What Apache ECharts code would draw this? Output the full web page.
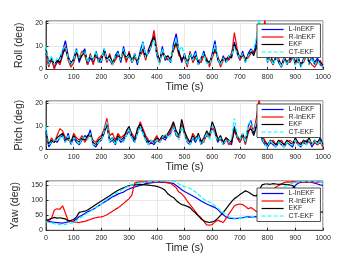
<!DOCTYPE html>
<html><head><meta charset="utf-8">
<script src="https://cdn.jsdelivr.net/npm/echarts@6/dist/echarts.min.js"></script>
<style>html,body{margin:0;padding:0;background:#fff}#c{width:357px;height:268px}</style>
</head><body><div id="c"></div>
<script>
const seriesNames = ['L-InEKF', 'R-InEKF', 'EKF', 'CT-EKF'];
const times = [0,10,20,30,40,50,60,70,80,90,100,110,120,130,140,150,160,170,180,190,200,210,220,230,240,250,260,270,280,290,300,310,320,330,340,350,360,370,380,390,400,410,420,430,440,450,460,470,480,490,500,510,520,530,540,550,560,570,580,590,600,610,620,630,640,650,660,670,680,690,700,710,720,730,740,750,760,770,780,790,800,810,820,830,840,850,860,870,880,890,900,910,920,930,940,950,960,970,980,990,1000];
const xTicks = [0,100,200,300,400,500,600,700,800,900,1000];

const rollL = [7,2,4,1,3,5,8,12.5,6,2, 5,9,3,7,9,2,5,3,8,4, 3,9,5,4,2,6,8,3,10,4, 6,3,7,2,8,12,6,7,10,15, 6,3,10,4,5,3,11,15.5,8,3, 7,2,6,5,8,2,4,8,3,2, 7,12.5,4,2,6,3,5,7,12,7, 4,8,3,7,9,7,12,19,8,10, 3,7,2,6,3,1,6,2,5,7, 2,6,1,5,8,2,6,3,5,2,1];
const rollR = [6,1,5,0,4,2,6,10,4,1, 3,7,5,8,6,2,7,2,6,4, 6,7,3,7,2,4,6,5,7,3, 8,3,5,4,6,8,4,9,11,17, 9,3,7,6,4,5,8,11,6,5, 5,1,8,3,5,4,3,6,5,1, 5,8,6,1,4,5,4,6,16,9, 4,6,5,5,7,8,9,12,8,22, 5,4,2,6,5,1,4,4,3,5, 4,3,3,3,6,4,2,1,3,4,1];
const rollE = [9,3,5,2,4,3,7,9,5,3, 4,8,4,6,8,3,6,4,7,3, 5,8,4,6,3,5,7,4,8,5, 7,4,6,3,7,9,5,8,12,14, 7,4,8,5,6,4,9,12,7,4, 6,3,7,4,6,3,5,7,4,3, 6,9,5,3,5,4,6,5,11,8, 5,7,4,6,8,6,10,13,7,9, 4,6,3,5,4,2,5,3,4,6, 3,5,2,4,7,3,5,2,4,3,2];
const rollC = [10,2,6,2,5,4,9,10,5,2, 4,9,5,7,8,3,6,4,8,3, 4,9,4,5,2,6,7,4,9,5, 6,3,7,3,6,12,5,8,10,13, 7,2,9,5,5,3,10,13,8,10, 6,2,7,4,7,2,5,7,3,2, 6,11,5,2,5,3,6,6,10,7, 5,7,3,6,8,9,14,22,7,9, 3,6,2,5,4,1,5,2,5,6, 2,5,1,4,7,2,5,2,4,2,1];

const pitchL = [8,1,3,4,3,5,6,3,7,2, 5,3,2,4,6,5,8.5,2,1,3, 4,7,11,3,4,2,5,3,4,6, 8,5,3,7,10,7,4,2,3,2, 4,3,5,4,6,7,10,6,5,10, 7,3,2,5,3,6,2,4,6,5, 10,7,3,5,2,4,3,2,10,5, 3,6,4,10,12.5,7,11,13,4,2, 1,3,2,1,3,2,1,3,2,1, 4,2,1,3,2,4,1,3,2,4,1];
const pitchR = [6,2,5,3,6,9,8,5,4,3, 7,5,4,6,3,5,6,4,3,5, 6,9,13.5,6,7,4,7,5,6,7, 9,7,5,8,12,9,6,4,3,4, 6,3,5,6,6,8,11,7,5,11, 7,4,3,7,5,6,4,3,7,5, 9,8,5,4,3,5,2,3,8,5, 3,6,2,7,10.5,8,14,22,6,4, 2,3,4,2,3,4,2,3,4,3, 4,2,3,3,4,3,2,3,2,3,1];
const pitchE = [7,2,4,3,5,6,7,4,5,3, 6,4,3,5,4,6,7,3,2,4, 5,8,10,4,5,3,6,4,5,8, 10,6,4,9,11,8,5,3,4,3, 5,4,6,5,7,9,12,8,6,13, 8,5,3,6,4,7,3,5,8,6, 12,9,4,6,3,5,4,3,9,6, 4,7,3,8,9,6,10,12,5,3, 2,4,3,2,4,3,2,4,3,2, 5,3,2,4,3,5,2,4,3,5,2];
const pitchC = [10,2,3,4,4,5,6,3,6,2, 5,4,2,5,5,4,7,2,2,3, 4,8,12,3,5,2,5,4,3,6, 9,5,3,7,10,7,4,2,4,3, 4,3,5,7,5,6,10,7,4,10, 6,3,2,5,4,6,2,4,7,4, 10,6,4,5,2,4,3,5,13.5,6, 4,7,3,11,12,8,12,11,5,2, 1,4,2,1,3,2,1,3,2,2, 4,2,1,3,2,4,2,4,2,4,1];

const yawL = [32,30,28,27,26,25,24,26,28,30, 31,38,46,50,56,62,66,70,76,82, 88,94,100,106,112,116,121,125,128,134, 138,142,145,148,150,153,156,158,159,160, 161,161,160,160,159,158,157,150,143,136, 130,125,120,115,110,104,98,93,88,84, 80,76,70,60,52,44,41,40,39,40, 41,42,44,45,44,45,46,46,47,48, 50,55,65,80,95,110,122,132,138,140, 150,158,160,161,162,161,160,158,155,152,150];
const yawR = [30,32,40,68,72,70,82,58,32,30, 28,27,26,28,30,33,36,40,42,44, 45,48,52,58,64,70,75,82,90,98, 106,118,158,161,162,162,163,162,162,163, 162,162,162,161,160,158,150,142,128,122, 112,98,86,74,62,50,42,30,18,17, 19,28,34,30,26,40,54,68,82,86, 88,86,80,72,76,70,62,70,85,100, 115,125,135,145,150,155,160,162,161,163, 162,161,162,163,162,161,163,162,161,163,162];
const yawE = [34,36,40,43,41,42,40,38,32,33, 36,45,60,62,64,68,74,80,86,92, 98,104,110,116,122,128,134,138,142,146, 149,151,152,153,154,153,152,151,150,149, 147,144,140,134,122,115,110,100,92,86, 84,80,76,66,58,48,38,32,28,26, 28,32,40,50,60,72,84,96,106,112, 120,126,132,128,122,116,115,135,152,155, 155,154,156,155,154,155,154,153,152,150, 140,125,110,95,85,75,70,66,68,60,62];
const yawC = [28,26,24,22,20,19,18,20,22,24, 26,32,40,45,52,58,64,70,76,82, 88,96,104,110,116,122,128,133,139,144, 148,151,154,157,158,160,162,163,163,164, 164,165,165,165,165,166,165,160,155,150, 145,145,140,134,128,120,112,104,98,94, 90,82,74,66,60,52,46,43,41,40, 40,41,42,43,45,46,47,50,55,65, 80,95,110,122,132,140,146,150,154,157, 160,162,164,163,164,163,164,163,164,163,162];

const rollTicks = [0,10,20];
const pitchTicks = [0,10,20];
const yawTicks = [0,50,100,150];

const colors = ['#0000ff', '#ff0000', '#000000', '#00ffff'];
const TXT = '#262626';
const FONT = 'Liberation Sans';

function pairs(v){ return v.map((y,i)=>[times[i], y]); }

const grids = [
  {left:46, right:34, top:21, height:48.5},
  {left:46, right:34, top:101, height:48.3},
  {left:46, right:34, top:181, height:49.3}
];
const yInfo = [
  {name:'Roll (deg)', max:21, interval:10, ticks:rollTicks, gap:13, data:[rollL, rollR, rollE, rollC]},
  {name:'Pitch (deg)', max:21, interval:10, ticks:pitchTicks, gap:13, data:[pitchL, pitchR, pitchE, pitchC]},
  {name:'Yaw (deg)', max:165, interval:50, ticks:yawTicks, gap:17, data:[yawL, yawR, yawE, yawC]}
];

const option = {
  animation:false,
  backgroundColor:'#fff',
  grid: grids.map(g=>Object.assign({show:true, borderColor:TXT, borderWidth:0.8, backgroundColor:'#fff'}, g)),
  xAxis: grids.map((g,i)=>({
    type:'value', gridIndex:i, min:0, max:1000, interval:100,
    name:'Time (s)', nameLocation:'middle', nameGap:11,
    nameTextStyle:{fontFamily:FONT, fontSize:10.5, color:TXT},
    axisLine:{show:true, lineStyle:{color:TXT, width:0.8}},
    axisTick:{show:true, inside:true, length:2.5, lineStyle:{color:TXT}},
    axisLabel:{fontFamily:FONT, fontSize:7, color:TXT, margin:4,
      formatter:v=> xTicks.includes(v) ? String(v) : ''},
    splitLine:{show:true, lineStyle:{color:'#e3e3e3', width:0.8}}
  })),
  yAxis: yInfo.map((y,i)=>({
    type:'value', gridIndex:i, min:0, max:y.max, interval:y.interval,
    name:y.name, nameLocation:'middle', nameGap:y.gap,
    nameTextStyle:{fontFamily:FONT, fontSize:10.5, color:TXT},
    axisLine:{show:true, lineStyle:{color:TXT, width:0.8}},
    axisTick:{show:true, inside:true, length:2.5, lineStyle:{color:TXT}},
    axisLabel:{fontFamily:FONT, fontSize:7, color:TXT, margin:3,
      formatter:v=> y.ticks.includes(v) ? String(v) : ''},
    splitLine:{show:true, lineStyle:{color:'#e3e3e3', width:0.8}}
  })),
  legend: [24, 104, 188].map(t=>({
    data:seriesNames, orient:'vertical', left:257, top:t,
    backgroundColor:'#fff', borderColor:TXT, borderWidth:0.8,
    padding:[2,5,2,4], itemGap:0.5, itemWidth:22, itemHeight:8,
    textStyle:{fontFamily:FONT, fontSize:7, color:TXT},
    lineStyle:{width:1.2, inactiveWidth:1.2},
    itemStyle:{opacity:0}
  })),
  series: []
};
yInfo.forEach((y,gi)=>{
  seriesNames.forEach((n,si)=>{
    option.series.push({
      name:n, type:'line', xAxisIndex:gi, yAxisIndex:gi,
      data:pairs(y.data[si]), symbol:'none', clip:true,
      lineStyle:{color:colors[si], width:1.2, type: si===3 ? [4,2] : 'solid'},
      itemStyle:{color:colors[si]}
    });
  });
});
const chart = echarts.init(document.getElementById('c'), null, {renderer:'canvas'});
chart.setOption(option);
</script></body></html>
